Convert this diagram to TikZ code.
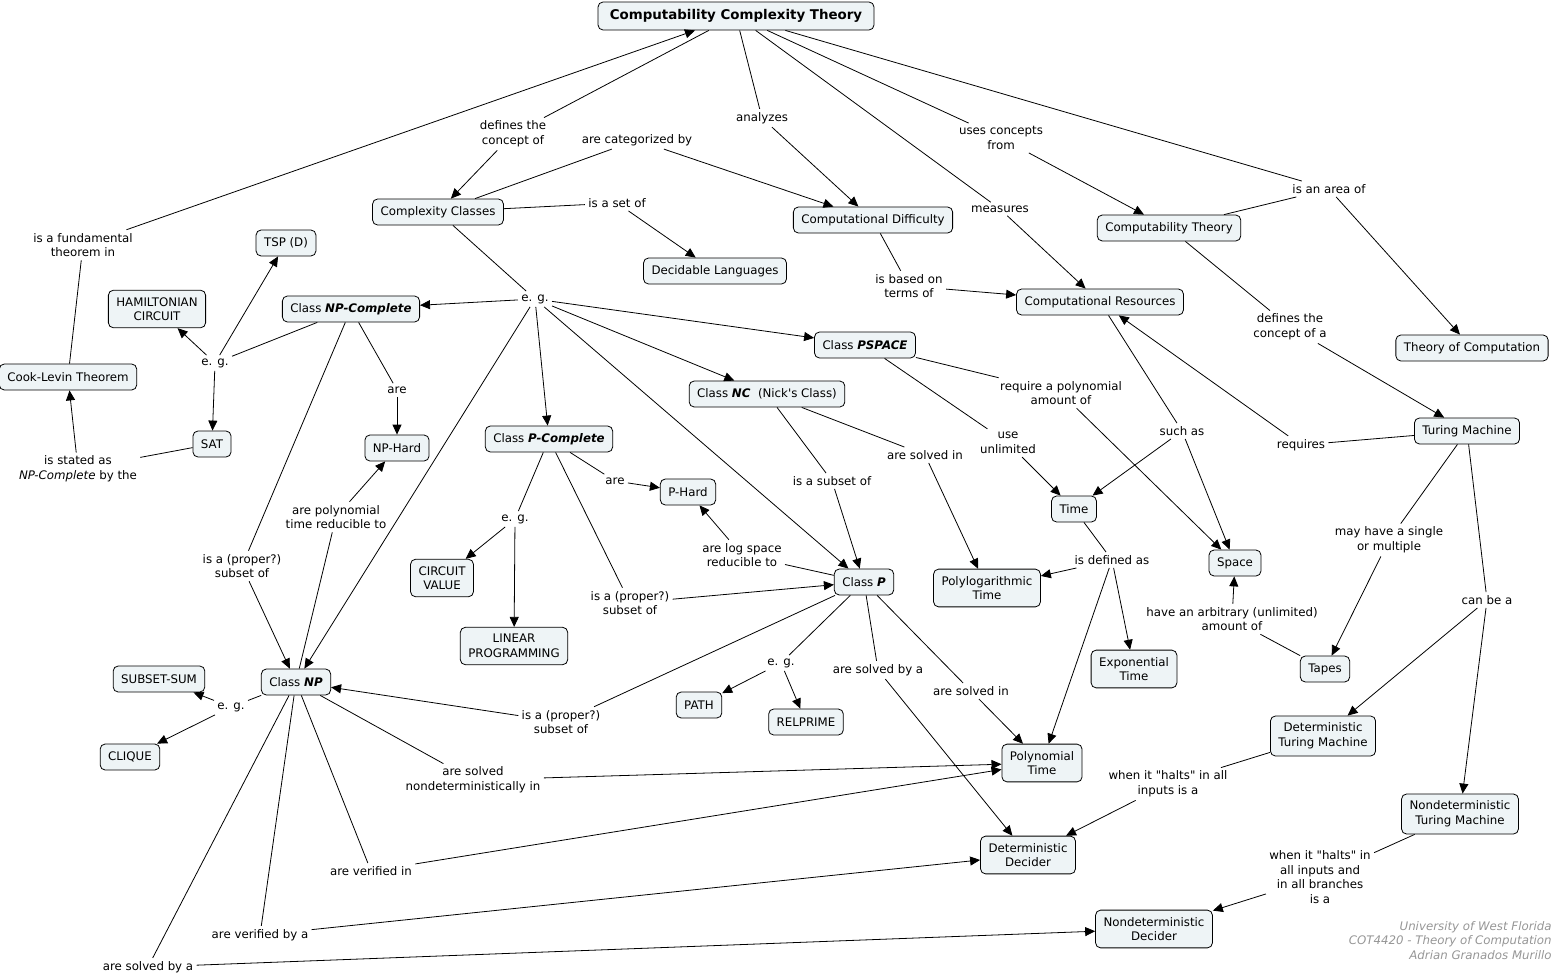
\documentclass[tikz,border=0pt]{standalone}
\usepackage{fontspec}
\setmainfont{DejaVu Sans}
\newfontfamily\mapfamily{DejaVu Sans}
\usetikzlibrary{arrows.meta}

\definecolor{conceptfill}{RGB}{238,244,246}
\definecolor{creditgray}{RGB}{150,150,150}
\newcommand{\mapfont}{\mapfamily\fontsize{11.8}{14.6}\selectfont}
\newcommand{\bitext}[1]{\textbf{\textit{#1}}}

\tikzset{
  concept/.style={draw, rounded corners=5pt, fill=conceptfill, align=center,
    inner xsep=8pt, inner ysep=7pt, minimum height=26pt, font=\mapfont},
  topconcept/.style={concept, font=\mapfamily\fontsize{13.4}{16}\selectfont\bfseries,
    minimum width=276pt, minimum height=28pt},
  phrase/.style={align=center, inner sep=3pt, font=\mapfont},
  arr/.style={-{Triangle[length=10pt,width=9pt]}},
}

\begin{document}
\begin{tikzpicture}[x=1pt,y=-1pt,line width=0.8pt]
    \useasboundingbox (0,0) rectangle (1566,977);

    % concepts
    \node[topconcept] (cct) at (736,16) {Computability Complexity Theory};
    \node[concept] (cclasses) at (438,212) {Complexity Classes};
    \node[concept] (cdiff) at (873,220) {Computational Difficulty};
    \node[concept] (declang) at (715,271) {Decidable Languages};
    \node[concept] (comptheory) at (1169,228) {Computability Theory};
    \node[concept] (cres) at (1100,302) {Computational Resources};
    \node[concept] (toc) at (1472,348) {Theory of Computation};
    \node[concept] (tsp) at (286,243) {TSP (D)};
    \node[concept] (hamc) at (157,309) {HAMILTONIAN\\CIRCUIT};
    \node[concept] (npc) at (351,309) {Class \bitext{NP-Complete}};
    \node[concept] (cook) at (68,377) {Cook-Levin Theorem};
    \node[concept] (sat) at (212,444) {SAT};
    \node[concept] (nphard) at (397,448) {NP-Hard};
    \node[concept] (pspace) at (865,345) {Class \bitext{PSPACE}};
    \node[concept] (nc) at (767,394) {Class \bitext{NC}\ \ (Nick's Class)};
    \node[concept] (pcomp) at (549,439) {Class \bitext{P-Complete}};
    \node[concept] (phard) at (688,492) {P-Hard};
    \node[concept] (time) at (1074,509) {Time};
    \node[concept] (space) at (1235,563) {Space};
    \node[concept] (tm) at (1467,431) {Turing Machine};
    \node[concept] (cval) at (442,578) {CIRCUIT\\VALUE};
    \node[concept] (linprog) at (514,646) {LINEAR\\PROGRAMMING};
    \node[concept] (classp) at (864,582) {Class \bitext{P}};
    \node[concept] (polylog) at (987,588) {Polylogarithmic\\Time};
    \node[concept] (exptime) at (1134,669) {Exponential\\Time};
    \node[concept] (tapes) at (1325,669) {Tapes};
    \node[concept] (classnp) at (296,682) {Class \bitext{NP}};
    \node[concept] (subsum) at (159,679) {SUBSET-SUM};
    \node[concept] (clique) at (130,757) {CLIQUE};
    \node[concept] (path) at (699,705) {PATH};
    \node[concept] (relprime) at (806,722) {RELPRIME};
    \node[concept] (polytime) at (1042,763) {Polynomial\\Time};
    \node[concept] (dtm) at (1323,736) {Deterministic\\Turing Machine};
    \node[concept] (ddec) at (1028,855) {Deterministic\\Decider};
    \node[concept] (ntm) at (1460,814) {Nondeterministic\\Turing Machine};
    \node[concept] (ndec) at (1154,929) {Nondeterministic\\Decider};

    % linking phrases
    \node[phrase] (fundin) at (83,245) {is a fundamental\\theorem in};
    \node[phrase] (defof) at (513,134) {defines the\\concept of};
    \node[phrase] (categ) at (637,140) {are categorized by};
    \node[phrase] (analyzes) at (762,118) {analyzes};
    \node[phrase] (usesfrom) at (1001,138) {uses concepts\\from};
    \node[phrase] (areaof) at (1329,189) {is an area of};
    \node[phrase] (setof) at (617,203) {is a set of};
    \node[phrase] (measures) at (1000,209) {measures};
    \node[phrase] (basedon) at (909,286) {is based on\\terms of};
    \node[phrase] (defofa) at (1290,327) {defines the\\concept of a};
    \node[phrase] (egclass) at (535,299) {e. g.};
    \node[phrase] (egnpc) at (215,363) {e. g.};
    \node[phrase] (arenph) at (397,390) {are};
    \node[phrase] (statedas) at (78,469) {is stated as\\\textit{NP-Complete} by the};
    \node[phrase] (reqpoly) at (1061,393) {require a polynomial\\amount of};
    \node[phrase] (useunl) at (1008,443) {use\\unlimited};
    \node[phrase] (suchas) at (1182,431) {such as};
    \node[phrase] (requires) at (1301,445) {requires};
    \node[phrase] (solvedinnc) at (925,455) {are solved in};
    \node[phrase] (subsetnc) at (832,481) {is a subset of};
    \node[phrase] (areph) at (615,481) {are};
    \node[phrase] (egpc) at (515,519) {e. g.};
    \node[phrase] (polyred) at (336,517) {are polynomial\\time reducible to};
    \node[phrase] (propernpc) at (242,566) {is a (proper?)\\subset of};
    \node[phrase] (logspace) at (742,555) {are log space\\reducible to};
    \node[phrase] (properpc) at (630,603) {is a (proper?)\\subset of};
    \node[phrase] (definedas) at (1112,560) {is defined as};
    \node[phrase] (single) at (1389,540) {may have a single\\or multiple};
    \node[phrase] (arbitrary) at (1232,619) {have an arbitrary (unlimited)\\amount of};
    \node[phrase] (canbe) at (1487,600) {can be a};
    \node[phrase] (egp) at (781,663) {e. g.};
    \node[phrase] (solvedbyp) at (878,670) {are solved by a};
    \node[phrase] (solvedinp) at (971,691) {are solved in};
    \node[phrase] (properp) at (561,722) {is a (proper?)\\subset of};
    \node[phrase] (egnp) at (231,707) {e. g.};
    \node[phrase] (nondet) at (473,780) {are solved\\nondeterministically in};
    \node[phrase] (haltsdtm) at (1168,784) {when it "halts" in all\\inputs is a};
    \node[phrase] (verifiedin) at (371,871) {are verified in};
    \node[phrase] (haltsntm) at (1320,877) {when it "halts" in\\all inputs and\\in all branches\\is a};
    \node[phrase] (verifiedby) at (260,935) {are verified by a};
    \node[phrase] (solvedby) at (148,967) {are solved by a};

    % credits
    \node[align=right, anchor=north east, inner sep=0pt, text=creditgray,
          font=\mapfont\itshape] (credits) at (1552,921)
          {University of West Florida\\COT4420 - Theory of Computation\\Adrian Granados Murillo};

    % links from the top concept
    \draw (cook) -- (fundin);
    \draw[arr] (fundin) -- (cct);
    \draw (cct) -- (defof);
    \draw[arr] (defof) -- (cclasses);
    \draw (cclasses) -- (categ);
    \draw[arr] (categ) -- (cdiff);
    \draw (cct) -- (analyzes);
    \draw[arr] (analyzes) -- (cdiff);
    \draw (cct) -- (measures);
    \draw[arr] (measures) -- (cres);
    \draw (cct) -- (usesfrom);
    \draw[arr] (usesfrom) -- (comptheory);
    \draw (cct) -- (areaof);
    \draw (comptheory) -- (areaof);
    \draw[arr] (areaof) -- (toc);
    \draw (cclasses) -- (setof);
    \draw[arr] (setof) -- (declang);
    \draw (cdiff) -- (basedon);
    \draw[arr] (basedon) -- (cres);
    \draw (comptheory) -- (defofa);
    \draw[arr] (defofa) -- (tm);

    % resources
    \draw (tm) -- (requires);
    \draw[arr] (requires) -- (cres);
    \draw (cres) -- (suchas);
    \draw[arr] (suchas) -- (time);
    \draw[arr] (suchas) -- (space);
    \draw (time) -- (definedas);
    \draw[arr] (definedas) -- (polylog);
    \draw[arr] (definedas) -- (exptime);
    \draw[arr] (definedas) -- (polytime);
    \draw (tapes) -- (arbitrary);
    \draw[arr] (arbitrary) -- (space);

    % turing machines
    \draw (tm) -- (single);
    \draw[arr] (single) -- (tapes);
    \draw (tm) -- (canbe);
    \draw[arr] (canbe) -- (dtm);
    \draw[arr] (canbe) -- (ntm);
    \draw (dtm) -- (haltsdtm);
    \draw[arr] (haltsdtm) -- (ddec);
    \draw (ntm) -- (haltsntm);
    \draw[arr] (haltsntm) -- (ndec);

    % complexity classes
    \draw (cclasses) -- (egclass);
    \draw[arr] (egclass) -- (npc);
    \draw[arr] (egclass) -- (pcomp);
    \draw[arr] (egclass) -- (nc);
    \draw[arr] (egclass) -- (pspace);
    \draw[arr] (egclass) -- (classp);
    \draw[arr] (egclass) -- (classnp);
    \draw (pspace) -- (reqpoly);
    \draw[arr] (reqpoly) -- (space);
    \draw (pspace) -- (useunl);
    \draw[arr] (useunl) -- (time);
    \draw (nc) -- (solvedinnc);
    \draw[arr] (solvedinnc) -- (polylog);
    \draw (nc) -- (subsetnc);
    \draw[arr] (subsetnc) -- (classp);

    % NP-Complete
    \draw (npc) -- (egnpc);
    \draw[arr] (egnpc) -- (hamc);
    \draw[arr] (egnpc) -- (tsp);
    \draw[arr] (egnpc) -- (sat);
    \draw (sat) -- (statedas);
    \draw[arr] (statedas) -- (cook);
    \draw (npc) -- (arenph);
    \draw[arr] (arenph) -- (nphard);
    \draw (npc) -- (propernpc);
    \draw[arr] (propernpc) -- (classnp);
    \draw (classnp) -- (polyred);
    \draw[arr] (polyred) -- (nphard);

    % P-Complete
    \draw (pcomp) -- (areph);
    \draw[arr] (areph) -- (phard);
    \draw (pcomp) -- (egpc);
    \draw[arr] (egpc) -- (cval);
    \draw[arr] (egpc) -- (linprog);
    \draw (pcomp) -- (properpc);
    \draw[arr] (properpc) -- (classp);

    % Class P
    \draw (classp) -- (logspace);
    \draw[arr] (logspace) -- (phard);
    \draw (classp) -- (egp);
    \draw[arr] (egp) -- (path);
    \draw[arr] (egp) -- (relprime);
    \draw (classp) -- (solvedbyp);
    \draw[arr] (solvedbyp) -- (ddec);
    \draw (classp) -- (solvedinp);
    \draw[arr] (solvedinp) -- (polytime);
    \draw (classp) -- (properp);
    \draw[arr] (properp) -- (classnp);

    % Class NP
    \draw (classnp) -- (egnp);
    \draw[arr] (egnp) -- (subsum);
    \draw[arr] (egnp) -- (clique);
    \draw (classnp) -- (nondet);
    \draw[arr] (nondet) -- (polytime);
    \draw (classnp) -- (verifiedin);
    \draw[arr] (verifiedin) -- (polytime);
    \draw (classnp) -- (verifiedby);
    \draw[arr] (verifiedby) -- (ddec);
    \draw (classnp) -- (solvedby);
    \draw[arr] (solvedby) -- (ndec);
\end{tikzpicture}
\end{document}
